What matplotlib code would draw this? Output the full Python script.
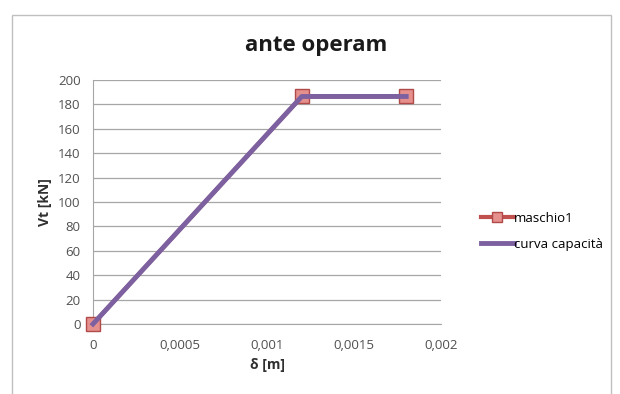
import matplotlib
matplotlib.use('Agg')
import matplotlib.pyplot as plt
from matplotlib.patches import Rectangle
from matplotlib.ticker import FuncFormatter

# dati
delta = [0, 0.0012, 0.0018]
vt_maschio = [0, 186.5, 186.5]
vt_curva = [0, 186.5, 186.5]

xticks = [0, 0.0005, 0.001, 0.0015, 0.002]
yticks = [0, 20, 40, 60, 80, 100, 120, 140, 160, 180, 200]

plt.rcParams['font.family'] = ['Open Sans', 'DejaVu Sans']

fig = plt.figure(figsize=(6.2, 3.94), dpi=100)
fig.patches.append(Rectangle((12/620, -0.01), 599/620, 1 - 15/394 + 0.01,
                             transform=fig.transFigure, fill=False,
                             edgecolor='#bfbfbf', linewidth=1))

ax = fig.add_axes([93/620, 1 - 324/394, 348/620, 244/394])
ax.plot(delta, vt_maschio, color='#c0504d', linewidth=3, marker='s',
        markersize=10, markerfacecolor='#e6908e', markeredgecolor='#b04a48',
        label='maschio1', clip_on=False, zorder=3)
ax.plot(delta, vt_curva, color='#7d60a0', linewidth=3.5,
        label='curva capacità', clip_on=False, zorder=4)

ax.set_xlim(0, 0.002)
ax.set_ylim(0, 200)
ax.set_xticks(xticks)
ax.set_yticks(yticks)
ax.xaxis.set_major_formatter(FuncFormatter(lambda v, p: ('%g' % v).replace('.', ',') if v else '0'))
ax.grid(axis='y', color='#a6a6a6', linewidth=0.9)
ax.set_axisbelow(True)
for s in ['top', 'right']:
    ax.spines[s].set_visible(False)
ax.spines['left'].set_color('#a6a6a6')
ax.spines['bottom'].set_color('#a6a6a6')
ax.tick_params(axis='x', length=0, labelsize=9.5, colors='#505050', pad=11)
ax.tick_params(axis='y', length=0, labelsize=9.5, colors='#505050', pad=9)

fig.text(316/620, 1 - 46/394, 'ante operam', fontsize=16, fontweight='bold',
         ha='center', va='center', color='#1a1a1a')
ax.set_xlabel('δ [m]', fontsize=10, fontweight='bold', labelpad=4, color='#303030')
ax.set_ylabel('Vt [kN]', fontsize=10, fontweight='bold', labelpad=4, color='#303030')

leg = ax.legend(loc='center left', bbox_to_anchor=(1.08, 0.38), frameon=False,
                fontsize=9.5, handlelength=2.5, handletextpad=0.0, labelspacing=1.0,
                markerscale=0.7)

fig.savefig('out.png', dpi=100)
